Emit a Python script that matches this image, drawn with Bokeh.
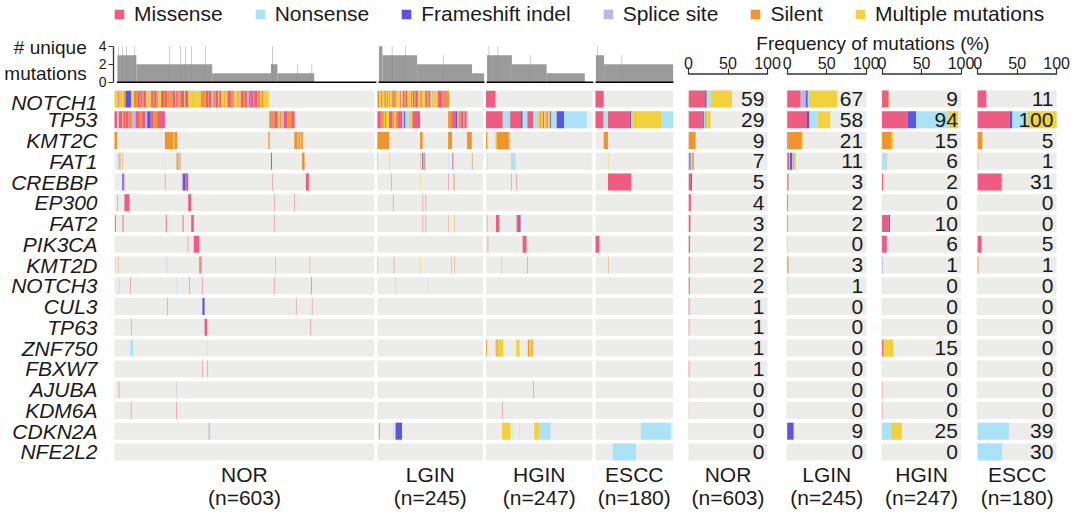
from bokeh.plotting import figure
from bokeh.models import Range1d, FixedTicker, ColumnDataSource, Legend, LegendItem
from bokeh.layouts import column, row
from bokeh.embed import file_html
from bokeh.resources import INLINE
from bokeh.core.properties import value

FONT = "Liberation Sans"
TXT = "#1a1a1a"

# ---------------- data ----------------
genes = ["NOTCH1", "TP53", "KMT2C", "FAT1", "CREBBP", "EP300", "FAT2", "PIK3CA", "KMT2D",
         "NOTCH3", "CUL3", "TP63", "ZNF750", "FBXW7", "AJUBA", "KDM6A", "CDKN2A", "NFE2L2"]
groups = ["NOR", "LGIN", "HGIN", "ESCC"]
group_n = [603, 245, 247, 180]

type_names = ["Missense", "Nonsense", "Frameshift indel", "Splice site", "Silent", "Multiple mutations"]
type_codes = ["M", "N", "F", "S", "L", "X"]
type_colors = ["#EE5C82", "#AAE3F5", "#5B55E2", "#BFB5E8", "#F0952C", "#F1D23C"]
stack_order = ["M", "S", "F", "N", "L", "X"]

# frequency of mutated samples (%) shown as numbers
freq_nor = [59, 29, 9, 7, 5, 4, 3, 2, 2, 2, 1, 1, 1, 1, 0, 0, 0, 0]
freq_lgin = [67, 58, 21, 11, 3, 2, 2, 0, 3, 1, 0, 0, 0, 0, 0, 0, 9, 0]
freq_hgin = [9, 94, 15, 6, 2, 0, 10, 6, 1, 0, 0, 0, 15, 0, 0, 0, 25, 0]
freq_escc = [11, 100, 5, 1, 31, 0, 0, 5, 1, 0, 0, 0, 0, 0, 0, 0, 39, 30]

# stacked bar composition (%) by type, order: M, N, F, S, L, X
comp_nor = [(21, 5, 2, 0, 0, 27), (18, 1.5, 1.5, 0, 1.5, 5.5), (0.5, 0, 0, 0, 8.5, 0),
            (1.5, 2, 1.3, 0, 2, 0), (3, 0, 1.3, 0, 0, 0), (3, 0, 0, 0, 0, 0), (2.5, 0, 0, 0, 0, 0),
            (2, 0, 0, 0, 0, 0), (1, 0, 0, 0, 1, 0), (1.5, 0, 0, 0, 0, 0), (0.5, 0, 0.5, 0, 0, 0),
            (1, 0, 0, 0, 0, 0), (0, 1, 0, 0, 0, 0), (1, 0, 0, 0, 0, 0), (0.4, 0, 0, 0, 0, 0),
            (0.4, 0, 0, 0, 0, 0), (0, 0, 0, 0.4, 0, 0), (0, 0, 0, 0, 0, 0)]
comp_lgin = [(17, 1.5, 2.5, 6.5, 0, 35.5), (25, 11, 3, 0, 0, 15.5), (1.5, 0, 0, 0, 17, 1),
             (2.5, 1, 3, 1, 1.5, 2), (1.5, 0, 0, 0, 0, 0), (1, 0, 0, 0, 0, 0), (0, 0, 0, 0, 1, 0),
             (0, 0, 0, 0, 0.3, 0), (0, 0, 0, 0, 1.5, 0), (0, 0, 0, 0, 0, 0.5), (0, 0, 0, 0, 0, 0),
             (0, 0, 0, 0, 0, 0), (0, 0, 0, 0, 0, 0), (0, 0, 0, 0, 0, 0), (0, 0, 0, 0, 0, 0),
             (0, 0, 0, 0, 0, 0), (0, 0, 8, 0, 0, 0), (0, 0, 0, 0, 0, 0)]
comp_hgin = [(8, 0, 0, 0, 1, 0), (32.5, 41, 10.5, 0, 0, 12.5), (0, 0, 0, 0, 11.8, 2.5),
             (0, 6, 0, 0, 0, 0.5), (1.5, 0, 0, 0, 0, 0), (0, 0, 0, 0, 0, 0), (8.5, 0, 1.5, 0, 0, 0),
             (6, 0, 0, 0, 0, 0), (0, 0, 0, 1, 0, 0), (0, 0, 0, 0, 0, 0), (0, 0, 0, 0, 0, 0),
             (0, 0, 0, 0, 0, 0), (2, 0, 0, 0, 0, 12), (0, 0, 0, 0, 0, 0), (0.4, 0, 0, 0, 0, 0),
             (0.4, 0, 0, 0, 0, 0), (0, 11.5, 0, 0, 0, 13.5), (0, 0, 0, 0, 0, 0)]
comp_escc = [(11, 0, 0, 0, 0, 0), (40.5, 19, 3.5, 0, 0, 37), (0, 0, 0, 0, 6, 0),
             (0, 0, 0, 0, 0, 0.8), (30, 0, 0, 0, 1, 0), (0, 0, 0, 0, 0, 0), (0, 0, 0, 0, 0, 0),
             (5, 0, 0, 0, 0, 0), (0, 0, 0, 0, 1, 0), (0, 0, 0, 0, 0, 0), (0, 0, 0, 0, 0, 0),
             (0, 0, 0, 0, 0, 0), (0, 0, 0, 0, 0, 0), (0, 0, 0, 0, 0, 0), (0, 0, 0, 0, 0, 0),
             (0, 0, 0, 0, 0, 0), (0, 39.5, 0, 0, 0, 0), (0, 31, 0, 0, 0, 0)]

# per-sample mutation matrix: gene -> [(first sample, run-length spec "code+count ...")]
mut_nor = {
    "NOTCH1": [(0, "X8 M2 X6 L2 X4 L4 F13 X6 L3 M2 L3 M6 N1 M5 L2 M6 X5 M1 X6 M5 L2 M5 L5 X6 "
                   "M7 L2 M6 L5 M2 L5 M6 S2 M2 L4 M1 L4 M8 X2 M7 X12 L2 X15 L6 M2 L4 M5 L2 M5 S5 "
                   "L6 M6 X2 M4 X7 L2 X6 M8 L4 M1 L3 X8 M2 X5 M7 L3 M5 S4 M4 M6 L2 M7 L8 X2 L5 X12")],
    "TP53": [(0, "M6 N4 M8 L4 M4 M7 L8 S8 M8 L7 M8 S4 F8 M7 L8 M18"),
             (359, "L5 M3 L4 M8 X4 L4 S6 M9 L8 M8")],
    "KMT2C": [(0, "L6"), (117, "L20 X2 L6"), (357, "L3"), (417, "L8 S2 L4 X2 L4")],
    "FAT1": [(6, "N1"), (9, "S1"), (11, "M1"), (14, "L1"), (18, "L1"), (117, "N1"),
             (144, "L2 M1 S2 X2 L2"), (363, "F2"), (435, "L3 M2 L1")],
    "CREBBP": [(18, "F2 M3"), (117, "M1"), (156, "S3 F6 M4 F2"), (366, "M1"), (444, "M7")],
    "EP300": [(6, "M1"), (23, "M12"), (171, "M7"), (370, "M1"), (417, "M1")],
    "FAT2": [(1, "M2"), (19, "M2"), (119, "M2"), (158, "M2"), (178, "M6"), (370, "M1")],
    "PIK3CA": [(170, "M1"), (184, "M13")],
    "KMT2D": [(1, "S1"), (8, "L1"), (121, "S1"), (197, "F1 L2 M2"), (373, "L1"), (453, "L1")],
    "NOTCH3": [(10, "S1"), (37, "M1"), (144, "N1"), (173, "M1"), (204, "M1"), (370, "M1"), (456, "L1 M1")],
    "CUL3": [(122, "M1"), (204, "F5"), (421, "M1"), (458, "M1")],
    "TP63": [(39, "M1"), (209, "M6"), (454, "M1")],
    "ZNF750": [(37, "N6"), (216, "N1")],
    "FBXW7": [(203, "M1"), (216, "M1")],
    "AJUBA": [(10, "M1"), (144, "S1")],
    "KDM6A": [(38, "M1"), (143, "M1")],
    "CDKN2A": [(219, "F1")],
}
mut_lgin = {
    "NOTCH1": [(0, "L4 X4 L4 X4 L4 X3 M2 X3 M2 X4 L3 M3 L3 X10 M2 X4 M4 L3 M4 X8 M2 X2 M4 L2 M6 "
                   "X6 M3 X7 L3 M3 L3 M3 X4 S3 X5 S2 X4 M11 L4 M2 L9")],
    "TP53": [(0, "M8 L7 X3 M2 X7 M8 L5 X3 L3 M12 S4 F3 N8 X8 M18"), (164, "L9 M8 F4 S3 L5 M6 L3 M5 S3")],
    "KMT2C": [(0, "M1 L26"), (99, "L6"), (164, "L9"), (208, "L11")],
    "FAT1": [(0, "L1"), (28, "S1"), (99, "L1"), (104, "F2 S2 F1 L2"), (164, "N1"), (174, "M1 F1"), (219, "S1 L1")],
    "CREBBP": [(32, "M1"), (99, "X1"), (164, "M1"), (177, "M1 L1")],
    "EP300": [(36, "M1"), (105, "M1"), (112, "M1")],
    "FAT2": [(105, "M1"), (112, "M1"), (164, "L1"), (179, "L1")],
    "KMT2D": [(0, "L1"), (38, "M1"), (99, "X1"), (172, "L1"), (179, "L1")],
    "NOTCH3": [(41, "X1"), (115, "N1")],
    "CDKN2A": [(5, "F1"), (37, "S1"), (42, "F15")],
}
mut_hgin = {
    "NOTCH1": [(0, "M22")],
    "TP53": [(0, "M39 N17 M25 F4 N11 M14 N10 X5 M2 X6 F2 X5 M3 X6 F2 X3 N10 F17 N53")],
    "KMT2C": [(0, "L3"), (22, "X3 L28 X3")],
    "FAT1": [(2, "N1"), (58, "N9 X1"), (234, "N1")],
    "CREBBP": [(58, "M1"), (70, "M1")],
    "FAT2": [(2, "M1"), (23, "M8"), (71, "M6 F3")],
    "PIK3CA": [(4, "M1"), (85, "M9")],
    "KMT2D": [(35, "S1"), (96, "M1")],
    "ZNF750": [(0, "L2"), (22, "X3 M2 X13"), (70, "X8"), (97, "L3 X6 M2 X2")],
    "AJUBA": [(110, "M1")],
    "KDM6A": [(37, "M1")],
    "CDKN2A": [(37, "X20"), (62, "N1"), (77, "N1"), (112, "X12 N26")],
}
mut_escc = {
    "NOTCH1": [(0, "M19")],
    "TP53": [(0, "M19 N10 M50 F4 X10 L1 X59 N27")],
    "KMT2C": [(19, "L10")],
    "FAT1": [(29, "X1")],
    "CREBBP": [(29, "M54")],
    "PIK3CA": [(0, "M9")],
    "KMT2D": [(29, "L1")],
    "CDKN2A": [(105, "N70")],
    "NFE2L2": [(40, "N54")],
}

# number of unique mutations per sample: runs (count, value) + single-sample spikes (sample, value)
top_runs_nor = [(44, 3), (177, 2), (137, 1), (15, 2), (86, 1), (144, 0)]
top_spikes_nor = [(2, 4), (12, 4), (21, 4), (40, 4), (121, 4), (147, 4), (158, 4), (172, 4),
                  (205, 4), (361, 4), (419, 2), (453, 2)]
top_runs_lgin = [(8, 4), (81, 3), (128, 2), (28, 1)]
top_spikes_lgin = [(30, 4), (62, 4), (150, 3)]
top_runs_hgin = [(58, 3), (81, 2), (89, 1), (19, 0)]
top_spikes_hgin = [(4, 4), (25, 4), (100, 3)]
top_runs_escc = [(19, 3), (161, 2)]
top_spikes_escc = [(3, 4), (60, 3)]

# ---------------- layout constants ----------------
PX = 0.431            # px per sample
GAP = 7               # gap between sample groups (samples)
PITCH = 20.76         # px per gene row
ROW0 = 98.5           # px of first row centre (page coords)
BH = 17 / PITCH       # band height in row units
offsets = []
acc = 0
for n in group_n:
    offsets.append(acc)
    acc += n + GAP
panel_off = [0, 125, 245, 366]   # frequency panel positions (in % units)
PPX = 0.79                       # px per percent

col_of = dict(zip(type_codes, type_colors))


def parse(start, spec):
    out, s = [], start
    for tok in spec.split():
        n = int(tok[1:])
        out.append((s, n, tok[0]))
        s += n
    return out


def yv(px):
    return (px - ROW0) / PITCH


def base_fig(**kw):
    p = figure(output_backend="svg", toolbar_location=None, outline_line_color=None,
               background_fill_color="white", border_fill_color="white", **kw)
    p.grid.visible = False
    return p


# ---------------- legend ----------------
leg_fig = base_fig(width=1080, height=28, x_range=Range1d(0, 1), y_range=Range1d(0, 1),
                   x_axis_location=None, y_axis_location=None, min_border_left=0,
                   min_border_right=0, min_border_top=0, min_border_bottom=0)
items = []
for name, c in zip(type_names, type_colors):
    # glyph lies outside the visible range; it only feeds the legend swatch
    r = leg_fig.quad(left=[5], right=[6], top=[6], bottom=[5], fill_color=c, line_color=None)
    items.append(LegendItem(label=name, renderers=[r]))
leg = Legend(items=items, orientation="horizontal", location=(113, 2), padding=0, margin=0,
             spacing=31, label_standoff=9, glyph_width=12, glyph_height=12,
             label_text_font=FONT, label_text_font_size="21px", label_text_color=TXT,
             border_line_color=None, background_fill_alpha=0)
leg_fig.add_layout(leg)

# ---------------- top bar chart ----------------
x_end = -1 / PX + 567 / PX
top_fig = base_fig(width=680, height=62, x_range=Range1d(-4 / PX, x_end),
                   y_range=Range1d(-(84 - 81.7) / 9, (81.7 - 36) / 9),
                   x_axis_location=None, min_border_left=110, min_border_right=0,
                   min_border_top=8, min_border_bottom=6)
tl, tr, tt, sl, sr, st = [], [], [], [], [], []
for gi, (runs, spikes) in enumerate([(top_runs_nor, top_spikes_nor), (top_runs_lgin, top_spikes_lgin),
                                     (top_runs_hgin, top_spikes_hgin), (top_runs_escc, top_spikes_escc)]):
    s = 0
    for cnt, v in runs:
        if v > 0:
            tl.append(offsets[gi] + s); tr.append(offsets[gi] + s + cnt); tt.append(v)
        s += cnt
    for smp, v in spikes:
        sl.append(offsets[gi] + smp); sr.append(offsets[gi] + smp + 1); st.append(v)
top_fig.quad(left=tl, right=tr, top=tt, bottom=0, fill_color="#9b9b9b", line_color=None)
top_fig.quad(left=sl, right=sr, top=st, bottom=0, fill_color="#8a8a8a", line_color=None)
top_fig.segment(x0=[o - 1 for o in offsets], x1=[o + n + 1 for o, n in zip(offsets, group_n)],
                y0=0, y1=0, line_color="black", line_width=1.6)
ya = top_fig.yaxis[0]
ya.ticker = FixedTicker(ticks=[0, 2, 4])
ya.bounds = (0, 4)
ya.axis_label = "# unique\nmutations"
ya.axis_label_orientation = "horizontal"
ya.axis_label_text_font = FONT
ya.axis_label_text_font_style = "normal"
ya.axis_label_text_font_size = "19px"
ya.axis_label_text_color = TXT
ya.axis_label_standoff = 9
ya.major_label_text_font = FONT
ya.major_label_text_font_size = "14px"
ya.major_label_text_color = TXT
ya.major_label_standoff = 2
ya.major_tick_out = 5
ya.major_tick_in = 0
ya.minor_tick_line_color = None
ya.axis_line_color = "#333333"
ya.major_tick_line_color = "#333333"
ya.axis_line_width = 1.3

# ---------------- mutation matrix ----------------
mat = base_fig(width=680, height=430, x_range=Range1d(-1 / PX, x_end),
               y_range=Range1d(yv(520), yv(90)), x_axis_location=None,
               min_border_left=113, min_border_right=0, min_border_top=0, min_border_bottom=0)
bl, br, bb, bt = [], [], [], []
for gi, n in enumerate(group_n):
    for i in range(len(genes)):
        bl.append(offsets[gi]); br.append(offsets[gi] + n)
        bb.append(i - BH / 2); bt.append(i + BH / 2)
mat.quad(left=bl, right=br, bottom=bb, top=bt, fill_color="#ececea", line_color=None)

ml, mr, mb, mt, mc = [], [], [], [], []
for gi, muts in enumerate([mut_nor, mut_lgin, mut_hgin, mut_escc]):
    for gene, entries in muts.items():
        i = genes.index(gene)
        for start, spec in entries:
            for s, n, code in parse(start, spec):
                ml.append(offsets[gi] + s); mr.append(offsets[gi] + s + n)
                mb.append(i - BH / 2); mt.append(i + BH / 2); mc.append(col_of[code])
mat.quad(source=ColumnDataSource(dict(left=ml, right=mr, bottom=mb, top=mt, color=mc)),
         left="left", right="right", bottom="bottom", top="top", fill_color="color", line_color=None)

gx = [o + n / 2 for o, n in zip(offsets, group_n)]
mat.text(x=gx, y=yv(474), text=groups, text_align="center", text_baseline="middle",
         text_font=value(FONT), text_font_size="21px", text_color=TXT)
mat.text(x=gx, y=yv(497), text=["(n=%d)" % n for n in group_n], text_align="center",
         text_baseline="middle", text_font=value(FONT), text_font_size="21px", text_color=TXT)

yax = mat.yaxis[0]
yax.ticker = FixedTicker(ticks=list(range(len(genes))))
yax.major_label_overrides = {i: g for i, g in enumerate(genes)}
yax.major_label_text_font = FONT
yax.major_label_text_font_style = "italic"
yax.major_label_text_font_size = "21px"
yax.major_label_text_color = TXT
yax.major_label_standoff = 10
yax.axis_line_color = None
yax.major_tick_line_color = None
yax.minor_tick_line_color = None

# ---------------- frequency panels ----------------
rf = base_fig(width=400, height=492, x_range=Range1d(0, 369 / PPX),
              y_range=Range1d(yv(520), yv(72)), x_axis_location="above", y_axis_location=None,
              min_border_left=8, min_border_right=23, min_border_top=44, min_border_bottom=0)
fl, fr, fb, ft = [], [], [], []
for o in panel_off:
    for i in range(len(genes)):
        fl.append(o - 1); fr.append(o + 100); fb.append(i - BH / 2); ft.append(i + BH / 2)
rf.quad(left=fl, right=fr, bottom=fb, top=ft, fill_color="#ececea", line_color=None)

ql, qr, qb, qt, qc = [], [], [], [], []
for o, comp in zip(panel_off, [comp_nor, comp_lgin, comp_hgin, comp_escc]):
    for i, vals in enumerate(comp):
        left = o
        for code in stack_order:
            w = vals[type_codes.index(code)]
            if w > 0:
                ql.append(left); qr.append(left + w); qb.append(i - BH / 2); qt.append(i + BH / 2)
                qc.append(col_of[code])
                left += w
rf.quad(source=ColumnDataSource(dict(left=ql, right=qr, bottom=qb, top=qt, color=qc)),
        left="left", right="right", bottom="bottom", top="top", fill_color="color", line_color=None)

for o, fr_vals in zip(panel_off, [freq_nor, freq_lgin, freq_hgin, freq_escc]):
    rf.text(x=[o + 96] * len(genes), y=list(range(len(genes))), text=[str(v) for v in fr_vals],
            text_align="right", text_baseline="middle", text_font=value(FONT),
            text_font_size="21px", text_color=TXT)
px_ = [o + 50 for o in panel_off]
rf.text(x=px_, y=yv(474), text=groups, text_align="center", text_baseline="middle",
        text_font=value(FONT), text_font_size="21px", text_color=TXT)
rf.text(x=px_, y=yv(497), text=["(n=%d)" % n for n in group_n], text_align="center",
        text_baseline="middle", text_font=value(FONT), text_font_size="21px", text_color=TXT)
# axis line of each panel
rf.segment(x0=panel_off, x1=[o + 100 for o in panel_off], y0=yv(73.5), y1=yv(73.5),
           line_color="#333333", line_width=1.3)

xa = rf.xaxis[0]
ticks = []
for o in panel_off:
    ticks += [o, o + 50, o + 100]
xa.ticker = FixedTicker(ticks=ticks)
xa.major_label_overrides = {t: str(t - o) for o in panel_off for t in (o, o + 50, o + 100)}
xa.axis_line_color = None
xa.major_tick_line_color = "#333333"
xa.major_tick_line_width = 1.2
xa.major_tick_out = 4
xa.major_tick_in = 2
xa.minor_tick_line_color = None
xa.major_label_standoff = 0
xa.major_label_text_font = FONT
xa.major_label_text_font_size = "16px"
xa.major_label_text_color = TXT
xa.axis_label = "Frequency of mutations (%)"
xa.axis_label_text_font = FONT
xa.axis_label_text_font_style = "normal"
xa.axis_label_text_font_size = "19px"
xa.axis_label_text_color = TXT
xa.axis_label_standoff = 0

layout = column(leg_fig, row(column(top_fig, mat), rf))
open("out.html", "w").write(file_html(layout, INLINE))
